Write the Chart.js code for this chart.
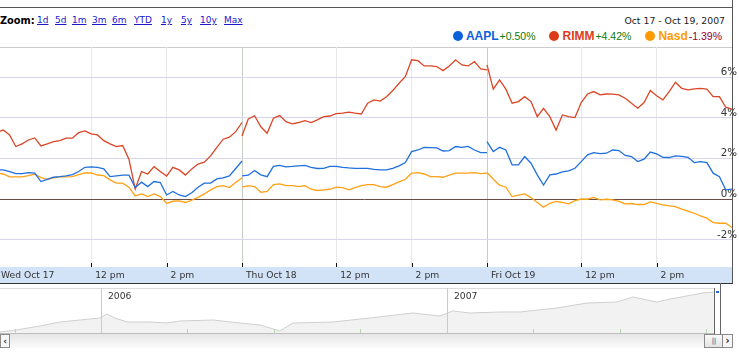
<!DOCTYPE html>
<html>
<head>
<meta charset="utf-8">
<script src="https://cdn.jsdelivr.net/npm/chart.js@4.4.0/dist/chart.umd.min.js"></script>
<style>
body { margin: 0; width: 739px; height: 353px; overflow: hidden; background: #fff; position: relative; font-family: 'DejaVu Sans', sans-serif; }
.abs { position: absolute; }
#zoomLabel { left: 0; top: 15px; font: bold 9.8px 'DejaVu Sans'; line-height: 11px; color: #000; }
.zl { top: 15px; font: 9px 'DejaVu Sans'; line-height: 11px; color: #1a1acc; text-decoration: underline; }
#range { right: 14px; top: 15px; font: 9.3px 'DejaVu Sans'; line-height: 11px; color: #222; }
#legend { right: 17px; top: 28px; line-height: 14px; white-space: nowrap; font-family: 'Liberation Sans', Arial, sans-serif; }
#legend .dot { display: inline-block; width: 10px; height: 10px; border-radius: 50%; vertical-align: -1px; margin-right: 3px; }
#legend .name { font-weight: bold; font-size: 12px; margin-right: 1px; }
#legend .chg { font-size: 10.5px; margin-right: 14px; }
#legend .chg:last-child { margin-right: 0; }
#mainWrap { left: -6px; top: 0; width: 745px; height: 283px; }
#navWrap { left: 0; top: 288px; width: 714px; height: 45px; }
.line { background: #555; }
</style>
</head>
<body>
<div id="zoomLabel" class="abs">Zoom:</div>
<div id="zoomLinks"></div>
<div id="range" class="abs">Oct 17 - Oct 19, 2007</div>
<div id="legend" class="abs"></div>

<div class="abs line" style="left:0;top:7px;width:733px;height:1px;"></div>
<div class="abs line" style="left:732px;top:0;width:1px;height:284px;"></div>

<div id="mainWrap" class="abs"><canvas id="main" width="745" height="283"></canvas></div>
<div class="abs" style="left:0;top:283px;width:733px;height:1px;background:#333;"></div>

<div class="abs" style="left:0;top:288px;width:714px;height:1px;background:#dcdcdc;"></div>
<div id="navWrap" class="abs"><canvas id="nav" width="714" height="45"></canvas></div>
<div class="abs" style="left:0;top:333px;width:714px;height:1px;background:#bdbdbd;"></div>

<div class="abs" style="left:0;top:334px;width:733px;height:14px;background:linear-gradient(#e6e6e6,#fbfbfb);"></div>
<div class="abs" style="left:0;top:334px;width:8px;height:12px;border:1px solid #8a8a8a;background:#f6f6f6;font:bold 9px 'DejaVu Sans';line-height:12px;text-align:center;color:#333;">&lsaquo;</div>
<div class="abs" style="left:704px;top:334px;width:17px;height:12px;border:1px solid #8a8a8a;background:linear-gradient(#fafafa,#e4e4e4);font:7px 'DejaVu Sans';line-height:12px;text-align:center;color:#777;letter-spacing:-1px;">|||</div>
<div class="abs" style="left:722px;top:334px;width:9px;height:12px;border:1px solid #8a8a8a;background:#f6f6f6;font:bold 10px 'DejaVu Sans';line-height:12px;text-align:center;color:#222;">&rsaquo;</div>
<div class="abs" style="left:714px;top:288px;width:1px;height:46px;background:#666;"></div>
<div class="abs" style="left:720px;top:283px;width:1px;height:51px;background:#666;"></div>
<div class="abs" style="left:716px;top:291px;width:3px;height:2px;background:#2a6fd6;"></div>

<script>
// trading minutes after 9:30 for each sample
const minutes = [0, 10, 20, 30, 40, 50, 60, 70, 80, 90, 100, 110, 120, 130, 140, 150, 160, 170, 180, 190,
                 200, 210, 220, 230, 240, 250, 260, 270, 280, 290, 300, 310, 320, 330, 340, 350, 360, 370, 380, 390];
const dayLength = 390;

// % change, one array per day (Wed Oct 17, Thu Oct 18, Fri Oct 19)
const aaplWed = [1.44, 1.44, 1.36, 1.26, 1.26, 1.31, 1.28, 0.87, 0.98, 1.08, 1.11, 1.15, 1.21, 1.36, 1.57, 1.59, 1.57, 1.49, 1.11, 1.15,
                 1.18, 1.18, 0.58, 0.84, 0.62, 0.87, 0.82, 0.21, 0.38, 0.21, 0.13, 0.32, 0.59, 0.79, 0.79, 1.00, 1.05, 1.15, 1.51, 1.88];
const aaplThu = [1.15, 1.18, 1.41, 1.20, 1.11, 1.61, 1.66, 1.59, 1.61, 1.64, 1.66, 1.57, 1.51, 1.52, 1.61, 1.61, 1.57, 1.54, 1.52, 1.52,
                 1.52, 1.47, 1.44, 1.44, 1.52, 1.64, 1.80, 2.34, 2.42, 2.55, 2.54, 2.52, 2.37, 2.39, 2.59, 2.55, 2.60, 2.42, 2.29, 2.29];
const aaplFri = [2.83, 2.34, 2.55, 2.42, 1.69, 1.69, 2.10, 1.77, 1.20, 0.70, 1.20, 1.24, 1.34, 1.39, 1.52, 1.85, 2.18, 2.29, 2.24, 2.26,
                 2.42, 2.39, 2.15, 2.10, 1.85, 1.97, 2.32, 2.23, 2.06, 2.05, 2.13, 2.11, 2.06, 1.80, 1.85, 1.80, 1.28, 1.11, 0.46, 0.50];

const rimmWed = [3.30, 3.40, 3.16, 2.59, 2.72, 2.91, 3.01, 2.62, 2.72, 2.83, 2.88, 3.00, 3.00, 3.27, 3.36, 3.21, 3.16, 2.88, 2.72, 2.59,
                 2.64, 1.97, 0.50, 1.36, 1.24, 1.60, 1.36, 1.14, 1.57, 1.44, 1.19, 1.49, 1.73, 1.82, 2.13, 2.55, 2.95, 3.05, 3.32, 3.77];
const rimmThu = [3.11, 3.94, 4.10, 3.56, 3.24, 3.98, 4.11, 3.81, 3.70, 3.77, 3.86, 3.77, 3.90, 4.06, 4.09, 4.21, 4.23, 4.28, 4.23, 4.19,
                 4.72, 4.88, 4.82, 5.04, 5.34, 5.70, 6.02, 6.85, 6.81, 6.55, 6.55, 6.52, 6.32, 6.55, 6.85, 6.60, 6.55, 6.76, 6.40, 6.36];
const rimmFri = [6.60, 5.41, 5.86, 5.41, 4.72, 4.80, 5.04, 4.80, 4.06, 4.47, 4.06, 3.40, 4.14, 4.06, 4.01, 4.75, 5.17, 5.29, 5.13, 5.17,
                 5.16, 5.13, 4.96, 4.72, 4.47, 4.75, 5.34, 5.08, 4.88, 5.29, 5.75, 5.45, 5.37, 5.42, 5.45, 5.41, 5.04, 5.04, 4.52, 4.42];

const nasdWed = [1.28, 1.24, 1.10, 1.10, 1.10, 1.16, 1.23, 1.06, 0.98, 1.05, 1.10, 1.10, 1.11, 1.21, 1.29, 1.29, 1.19, 1.16, 0.95, 0.79,
                 0.79, 0.59, 0.16, 0.26, 0.13, 0.26, 0.13, -0.20, -0.10, -0.08, -0.16, -0.04, 0.09, 0.26, 0.46, 0.62, 0.67, 0.57, 0.82, 1.06];
const nasdThu = [0.59, 0.67, 0.62, 0.34, 0.38, 0.72, 0.75, 0.67, 0.67, 0.62, 0.67, 0.49, 0.43, 0.46, 0.49, 0.59, 0.57, 0.46, 0.57, 0.67,
                 0.72, 0.72, 0.62, 0.59, 0.72, 0.85, 0.98, 1.28, 1.31, 1.24, 1.11, 1.11, 1.08, 1.18, 1.28, 1.28, 1.28, 1.31, 1.26, 1.28];
const nasdFri = [1.31, 0.98, 0.69, 0.59, 0.13, 0.20, 0.26, 0.08, -0.16, -0.39, -0.20, -0.11, -0.16, -0.23, -0.07, 0.01, 0.00, 0.09, -0.03, 0.00,
                 -0.03, -0.11, -0.23, -0.21, -0.26, -0.26, -0.13, -0.20, -0.28, -0.33, -0.36, -0.49, -0.59, -0.69, -0.82, -0.93, -1.15, -1.18, -1.18, -1.39];

const seriesNames = ['AAPL', 'RIMM', 'Nasd'];
const seriesChanges = ['+0.50%', '+4.42%', '-1.39%'];
const seriesDays = [[aaplWed, aaplThu, aaplFri], [rimmWed, rimmThu, rimmFri], [nasdWed, nasdThu, nasdFri]];
const lineColors = ['#1f6fdc', '#dc4526', '#ffa114'];
const dotColors = ['#0b62d9', '#db3d1a', '#ff9b00'];
const changeColors = ['#0d7a0d', '#0d7a0d', '#990033'];

const tickMinutes = [0, 150, 270, 390, 540, 660, 780, 930, 1050];
const tickLabels = ['Wed Oct 17', '12 pm', '2 pm', 'Thu Oct 18', '12 pm', '2 pm', 'Fri Oct 19', '12 pm', '2 pm'];
const yTicks = [-2, 0, 2, 4, 6];

// overview strip below the chart
const navYears = [2005.708, 2005.754, 2005.824, 2005.882, 2005.939, 2005.997, 2006.017, 2006.040, 2006.075, 2006.142, 2006.191,
                  2006.228, 2006.324, 2006.402, 2006.460, 2006.517, 2006.555, 2006.671, 2006.777, 2006.902, 2006.980, 2007.017,
                  2007.066, 2007.153, 2007.211, 2007.318, 2007.405, 2007.491, 2007.538, 2007.607, 2007.645, 2007.740, 2007.772];
const navValues = [2150, 2183, 2250, 2317, 2350, 2384, 2451, 2384, 2317, 2317, 2300,
                   2334, 2350, 2300, 2267, 2167, 2300, 2317, 2384, 2467, 2417, 2501,
                   2467, 2484, 2484, 2551, 2634, 2651, 2735, 2651, 2701, 2801, 2818];
const navYearLines = [2006, 2007];
const navQuarters = [2005.75, 2006.25, 2006.5, 2006.75, 2007.25, 2007.5, 2007.75];

// zoom links and legend
const zoomLinks = [['1d', 37], ['5d', 55], ['1m', 72], ['3m', 92], ['6m', 112], ['YTD', 134], ['1y', 161], ['5y', 181], ['10y', 200], ['Max', 224]];
document.getElementById('zoomLinks').innerHTML = zoomLinks
    .map(([t, x]) => `<span class="abs zl" style="left:${x}px">${t}</span>`).join('');

document.getElementById('legend').innerHTML = seriesNames.map((n, i) =>
    `<span class="dot" style="background:${dotColors[i]}"></span><span class="name" style="color:${dotColors[i]}">${n}</span><span class="chg" style="color:${changeColors[i]}">${seriesChanges[i]}</span>`
).join('');

// build {x,y} points with a break between trading days
function buildPoints(days) {
    const pts = [];
    days.forEach((vals, d) => {
        if (d > 0) pts.push({ x: d * dayLength, y: null });
        vals.forEach((v, i) => pts.push({ x: d * dayLength + minutes[i], y: v }));
    });
    return pts;
}

const framePlugin = {
    id: 'frame',
    beforeDraw(chart) {
        const { ctx, chartArea } = chart;
        ctx.save();
        ctx.fillStyle = '#d2e2f7';
        ctx.fillRect(0, chartArea.bottom, chartArea.right, chart.height - chartArea.bottom);
        ctx.fillStyle = '#cccccc';
        ctx.fillRect(0, chartArea.top, chartArea.right, 1);
        ctx.restore();
    },
    afterDraw(chart) {
        const { ctx, chartArea, scales } = chart;
        ctx.save();
        ctx.fillStyle = '#111';
        scales.x.ticks.forEach(t => {
            const px = Math.round(scales.x.getPixelForValue(t.value));
            ctx.fillRect(px, chartArea.bottom - 4, 1, 4);
        });
        ctx.restore();
    }
};

new Chart(document.getElementById('main'), {
    type: 'line',
    data: {
        datasets: seriesNames.map((n, i) => ({
            label: n,
            data: buildPoints(seriesDays[i]),
            borderColor: lineColors[i],
            borderWidth: 1.3,
            pointRadius: 0,
            tension: 0,
            spanGaps: false
        }))
    },
    options: {
        responsive: false,
        animation: false,
        events: [],
        layout: { padding: { top: 47, right: 7, left: 0, bottom: 0 } },
        plugins: { legend: { display: false }, tooltip: { enabled: false } },
        scales: {
            x: {
                type: 'linear',
                min: 0,
                max: dayLength * 3,
                afterBuildTicks: s => { s.ticks = tickMinutes.map(v => ({ value: v })); },
                afterFit: s => { s.height = 16; },
                grid: {
                    color: c => (c.tick && c.tick.value % dayLength === 0) ? '#c6cec6' : '#e8e8e8',
                    drawTicks: false
                },
                border: { display: false },
                ticks: {
                    autoSkip: false,
                    maxRotation: 0,
                    align: 'start',
                    labelOffset: 4,
                    padding: 3,
                    color: '#333',
                    font: { family: 'DejaVu Sans', size: 9.2 },
                    callback: (v, i) => tickLabels[i]
                }
            },
            y: {
                position: 'right',
                min: -3.33,
                max: 7.48,
                afterBuildTicks: s => { s.ticks = yTicks.map(v => ({ value: v })); },
                afterFit: s => { s.width = 0; },
                grid: {
                    color: c => (c.tick && c.tick.value === 0) ? '#6b4b44' : '#d6d6ee',
                    drawTicks: false
                },
                border: { display: false },
                ticks: {
                    mirror: true,
                    padding: 5,
                    labelOffset: -5,
                    color: '#333',
                    font: { family: 'DejaVu Sans', size: 10.3 },
                    callback: v => v + '%'
                }
            }
        }
    },
    plugins: [framePlugin]
});

const navPlugin = {
    id: 'navMarks',
    afterDatasetsDraw(chart) {
        const { ctx, chartArea, scales } = chart;
        ctx.save();
        ctx.fillStyle = '#b9d8b2';
        navYearLines.forEach(yr => {
            const px = Math.round(scales.x.getPixelForValue(yr));
            ctx.fillRect(px, chartArea.top, 1, chartArea.bottom - chartArea.top);
        });
        navQuarters.forEach(q => {
            const px = Math.round(scales.x.getPixelForValue(q));
            ctx.fillRect(px, chartArea.bottom - 4, 1, 4);
        });
        ctx.fillStyle = '#333';
        ctx.font = '9.2px "DejaVu Sans"';
        ctx.textBaseline = 'top';
        navYearLines.forEach(yr => {
            const px = Math.round(scales.x.getPixelForValue(yr));
            ctx.fillText(String(yr), px + 7, chartArea.top + 4);
        });
        ctx.restore();
    }
};

new Chart(document.getElementById('nav'), {
    type: 'line',
    data: {
        datasets: [{
            data: navYears.map((yr, i) => ({ x: yr, y: navValues[i] })),
            borderColor: '#cfcfcf',
            backgroundColor: '#f2f2f2',
            borderWidth: 1,
            fill: 'start',
            pointRadius: 0,
            tension: 0
        }]
    },
    options: {
        responsive: false,
        animation: false,
        events: [],
        layout: { padding: 0 },
        plugins: { legend: { display: false }, tooltip: { enabled: false } },
        scales: {
            x: { type: 'linear', min: 2005.708, max: 2007.772, display: false },
            y: { min: 2133, max: 2885, display: false }
        }
    },
    plugins: [navPlugin]
});
</script>
</body>
</html>
